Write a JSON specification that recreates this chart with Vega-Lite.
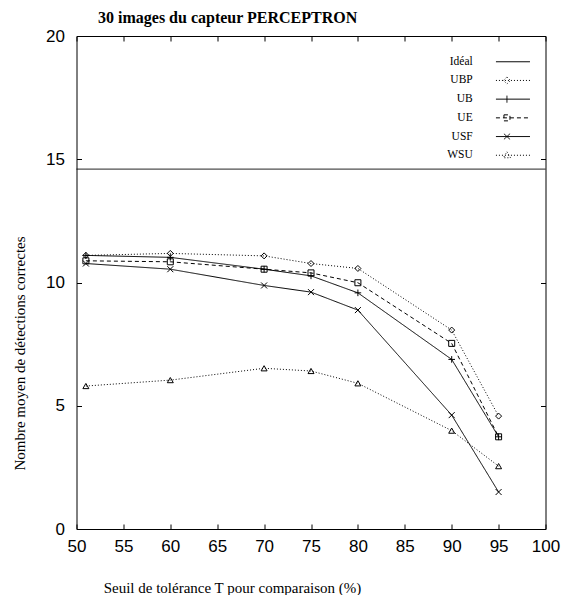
{
  "$schema": "https://vega.github.io/schema/vega-lite/v6.json",
  "autosize": "none",
  "width": 469,
  "height": 493,
  "padding": {"left": 76.5, "top": 36, "right": 27.5, "bottom": 66},
  "background": "white",
  "title": {
    "text": "30 images du capteur PERCEPTRON",
    "anchor": "start",
    "frame": "group",
    "dx": 21.5,
    "offset": 1,
    "font": "Liberation Serif",
    "fontSize": 16,
    "fontWeight": "bold",
    "color": "black"
  },
  "config": {
    "view": {"stroke": "black", "strokeWidth": 1},
    "axis": {
      "grid": false,
      "domain": false,
      "tickColor": "black",
      "tickSize": -5,
      "labelFont": "Liberation Sans",
      "labelFontSize": 17,
      "labelColor": "black",
      "titleFont": "Liberation Serif",
      "titleFontSize": 15,
      "titleFontWeight": "normal",
      "titleColor": "black"
    }
  },
  "data": {
    "values": [
      {"T": 50, "series": "Idéal", "v": 14.6},
      {"T": 100, "series": "Idéal", "v": 14.6},
      {"T": 51, "series": "UBP", "v": 11.1},
      {"T": 60, "series": "UBP", "v": 11.18},
      {"T": 70, "series": "UBP", "v": 11.08},
      {"T": 75, "series": "UBP", "v": 10.77},
      {"T": 80, "series": "UBP", "v": 10.57},
      {"T": 90, "series": "UBP", "v": 8.07},
      {"T": 95, "series": "UBP", "v": 4.58},
      {"T": 51, "series": "UB", "v": 11.1},
      {"T": 60, "series": "UB", "v": 11.02},
      {"T": 70, "series": "UB", "v": 10.54},
      {"T": 75, "series": "UB", "v": 10.27},
      {"T": 80, "series": "UB", "v": 9.58},
      {"T": 90, "series": "UB", "v": 6.88},
      {"T": 95, "series": "UB", "v": 3.74},
      {"T": 51, "series": "UE", "v": 10.88},
      {"T": 60, "series": "UE", "v": 10.84},
      {"T": 70, "series": "UE", "v": 10.54},
      {"T": 75, "series": "UE", "v": 10.39},
      {"T": 80, "series": "UE", "v": 9.99},
      {"T": 90, "series": "UE", "v": 7.53},
      {"T": 95, "series": "UE", "v": 3.74},
      {"T": 51, "series": "USF", "v": 10.77},
      {"T": 60, "series": "USF", "v": 10.54},
      {"T": 70, "series": "USF", "v": 9.88},
      {"T": 75, "series": "USF", "v": 9.61},
      {"T": 80, "series": "USF", "v": 8.88},
      {"T": 90, "series": "USF", "v": 4.62},
      {"T": 95, "series": "USF", "v": 1.5},
      {"T": 51, "series": "WSU", "v": 5.8},
      {"T": 60, "series": "WSU", "v": 6.04},
      {"T": 70, "series": "WSU", "v": 6.52},
      {"T": 75, "series": "WSU", "v": 6.41},
      {"T": 80, "series": "WSU", "v": 5.91},
      {"T": 90, "series": "WSU", "v": 3.99},
      {"T": 95, "series": "WSU", "v": 2.55}
    ]
  },
  "layer": [
    {
      "mark": {"type": "line", "stroke": "black", "strokeWidth": 1},
      "encoding": {
        "x": {
          "field": "T", "type": "quantitative",
          "scale": {"domain": [50, 100], "nice": false},
          "axis": {
            "orient": "bottom",
            "values": [50, 55, 60, 65, 70, 75, 80, 85, 90, 95, 100],
            "labelPadding": 14,
            "labelFlush": false,
            "title": "Seuil de tolérance T pour comparaison (%)",
            "titleX": 155.5,
            "titleY": 58,
            "titleAlign": "center",
            "titleBaseline": "middle",
            "titleAnchor": null
          }
        },
        "y": {
          "field": "v", "type": "quantitative",
          "scale": {"domain": [0, 20], "nice": false},
          "axis": {
            "orient": "left",
            "values": [0, 5, 10, 15, 20],
            "labelPadding": 17,
            "labelFlush": false,
            "title": "Nombre moyen de détections correctes",
            "titleX": -57.5,
            "titleY": 317,
            "titleAngle": -90,
            "titleAlign": "center",
            "titleBaseline": "middle",
            "titleAnchor": null
          }
        },
        "strokeDash": {
          "field": "series", "type": "nominal",
          "scale": {
            "domain": ["Idéal", "UBP", "UB", "UE", "USF", "WSU"],
            "range": [[1, 0], [1, 2], [1, 0], [4, 3], [1, 0], [1, 2]]
          },
          "legend": {
            "title": null,
            "orient": "none",
            "legendX": 430.7,
            "legendY": 20,
            "padding": 0,
            "rowPadding": 5.7,
            "labelAlign": "right",
            "labelOffset": -46,
            "labelFont": "Liberation Serif",
            "labelFontSize": 11.5,
            "labelColor": "black",
            "symbolSize": 100,
            "symbolStrokeColor": "black",
            "symbolStrokeWidth": 1,
            "symbolFillColor": "transparent",
            "encode": {
              "symbols": {
                "update": {
                  "shape": {"signal": "datum.value === 'Idéal' ? 'M-3.4,0H3.4' : datum.value === 'UBP' ? 'M-3.4,0H3.4M-1.2,-0.7L-0.5,0L-1.2,0.7L-1.9,0Z' : datum.value === 'UB' ? 'M-3.4,0H3.4M-1.2,-0.7V0.7' : datum.value === 'UE' ? 'M-3.4,0H3.4M-1.8,-0.6H-0.6V0.6H-1.8Z' : datum.value === 'USF' ? 'M-3.4,0H3.4M-1.8,-0.55L-0.6,0.55M-1.8,0.55L-0.6,-0.55' : 'M-3.4,0H3.4M-1.2,-0.7L-0.5,0.5L-1.9,0.5Z'"},
                  "fill": {"value": "transparent"}
                }
              }
            }
          }
        },
        "order": {"field": "T", "type": "quantitative"}
      }
    },
    {
      "transform": [{"filter": "datum.series !== 'Idéal'"}],
      "mark": {"type": "point", "filled": false, "stroke": "black", "strokeWidth": 1, "opacity": 1, "size": 36},
      "encoding": {
        "x": {
          "field": "T", "type": "quantitative",
          "axis": {"orient": "top", "values": [50, 55, 60, 65, 70, 75, 80, 85, 90, 95, 100], "labels": false, "title": null}
        },
        "y": {
          "field": "v", "type": "quantitative",
          "axis": {"orient": "right", "values": [0, 5, 10, 15, 20], "labels": false, "title": null}
        },
        "shape": {
          "field": "series", "type": "nominal",
          "scale": {
            "domain": ["UBP", "UB", "UE", "USF", "WSU"],
            "range": ["diamond", "M-1.1,0H1.1M0,-1.1V1.1", "square", "M-1,-1L1,1M-1,1L1,-1", "triangle-up"]
          },
          "legend": null
        }
      }
    }
  ]
}
